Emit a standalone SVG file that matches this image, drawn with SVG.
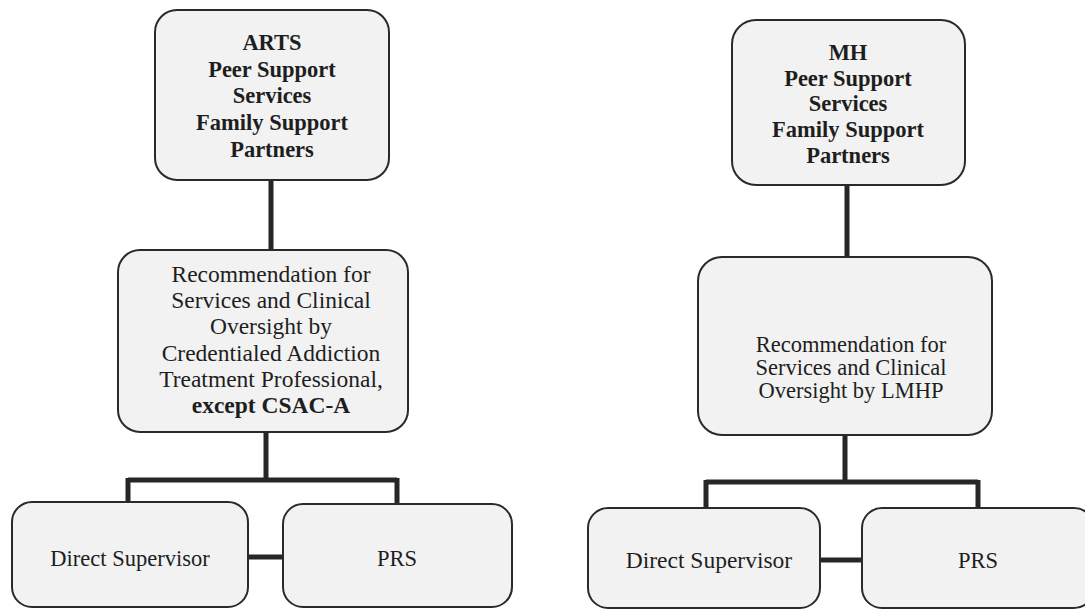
<svg xmlns="http://www.w3.org/2000/svg" width="1085" height="609" viewBox="0 0 1085 609">
<style>
.box{fill:#f2f2f2;stroke:#2a2a2a;stroke-width:2}
.conn{fill:none;stroke:#262626;stroke-width:5}
.t{font-family:'Liberation Serif','Times New Roman',Times,serif;fill:#1e1e1e;text-anchor:middle;font-size:22.5px}
.b{font-weight:bold}
.l{font-size:23.5px}
</style>
<rect width="1085" height="609" fill="#ffffff"/>
<g id="connectors">
<path class="conn" d="M271 180 V250"/>
<path class="conn" d="M266 432 V480 M128 480 H397 M128 478 V502 M397 478 V504"/>
<path class="conn" d="M248 557 H283"/>
<path class="conn" d="M847 185 V257"/>
<path class="conn" d="M845 435 V482 M706 482 H978 M706 480 V508 M978 480 V508"/>
<path class="conn" d="M820 560 H862"/>
</g>
<g id="arts">
<rect class="box" x="155" y="10" width="234" height="170" rx="22"/>
<text class="t b"><tspan x="272" y="50">ARTS</tspan><tspan x="272" y="77">Peer Support</tspan><tspan x="272" y="103">Services</tspan><tspan x="272" y="130">Family Support</tspan><tspan x="272" y="157">Partners</tspan></text>
</g>
<g id="arts-rec">
<rect class="box" x="118" y="250" width="290" height="182" rx="22"/>
<text class="t l"><tspan x="271" y="282">Recommendation for</tspan><tspan x="271" y="308">Services and Clinical</tspan><tspan x="271" y="334">Oversight by</tspan><tspan x="271" y="361">Credentialed Addiction</tspan><tspan x="271" y="387">Treatment Professional,</tspan><tspan x="271" y="413" font-weight="bold">except CSAC-A</tspan></text>
</g>
<g id="arts-direct">
<rect class="box" x="12" y="502" width="236" height="105" rx="20"/>
<text class="t" x="130" y="566">Direct Supervisor</text>
</g>
<g id="arts-prs">
<rect class="box" x="283" y="504" width="229" height="103" rx="20"/>
<text class="t" x="397" y="566">PRS</text>
</g>
<g id="mh">
<rect class="box" x="732" y="20" width="233" height="165" rx="24"/>
<text class="t b"><tspan x="848" y="60">MH</tspan><tspan x="848" y="86">Peer Support</tspan><tspan x="848" y="111">Services</tspan><tspan x="848" y="137">Family Support</tspan><tspan x="848" y="163">Partners</tspan></text>
</g>
<g id="mh-rec">
<rect class="box" x="698" y="257" width="294" height="178" rx="24"/>
<text class="t"><tspan x="851" y="352">Recommendation for</tspan><tspan x="851" y="375">Services and Clinical</tspan><tspan x="851" y="398">Oversight by LMHP</tspan></text>
</g>
<g id="mh-direct">
<rect class="box" x="588" y="508" width="232" height="100" rx="20"/>
<text class="t l" x="709" y="568">Direct Supervisor</text>
</g>
<g id="mh-prs">
<rect class="box" x="862" y="508" width="232" height="100" rx="20"/>
<text class="t" x="978" y="568">PRS</text>
</g>
</svg>
